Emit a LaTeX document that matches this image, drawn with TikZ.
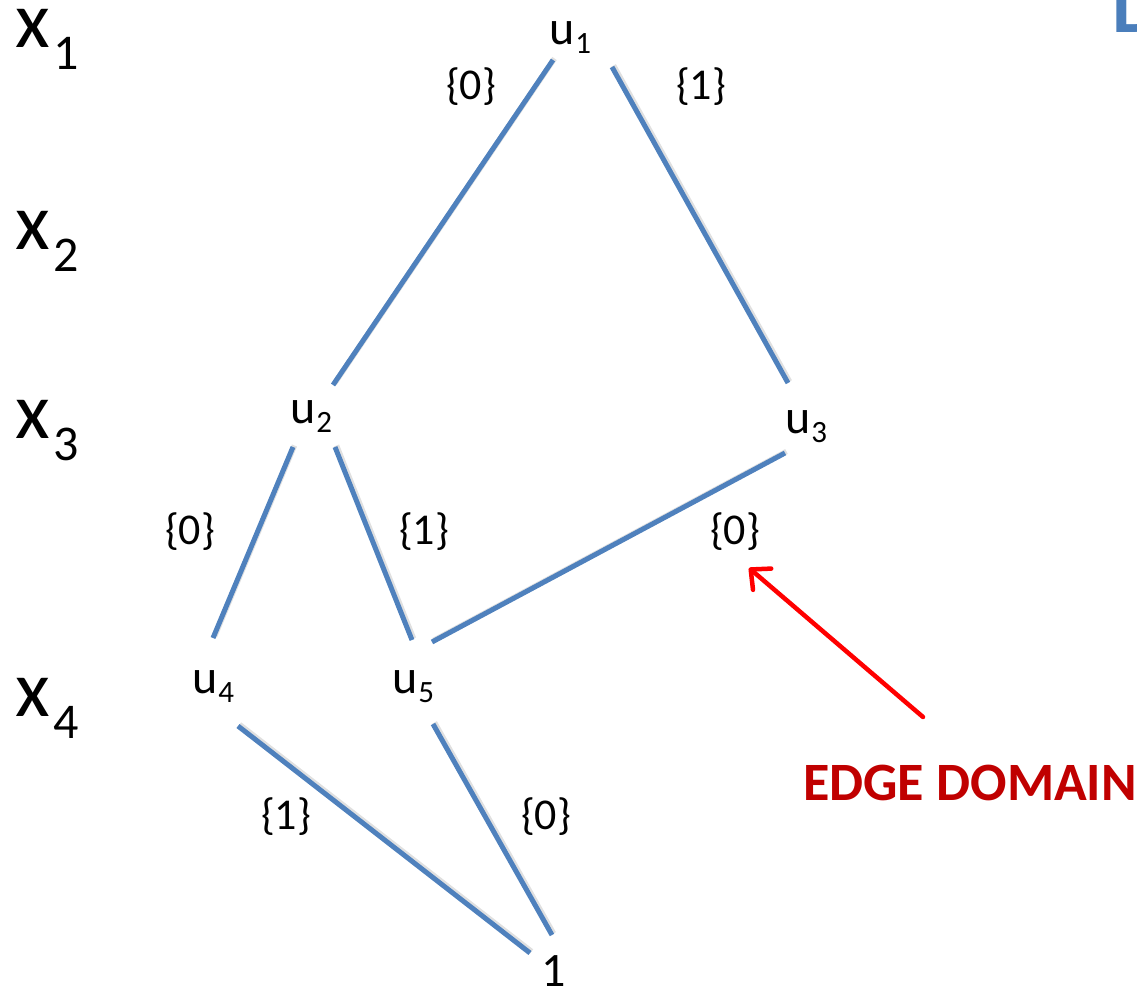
\documentclass[tikz,border=0pt]{standalone}
\usepackage{fontspec}
\setmainfont{Carlito}
\usetikzlibrary{arrows.meta}
\definecolor{edgeblue}{HTML}{4F81BD}
\definecolor{titleblue}{HTML}{4A7EBB}
\definecolor{darkred}{HTML}{C00000}
\definecolor{arrowred}{HTML}{FF0000}
% variable names x_i and node names u_i with lowered subscripts
\newcommand\varx[1]{{\fontsize{80}{80}\selectfont x}\kern4pt{\fontsize{50}{50}\selectfont\raisebox{-22pt}{#1}}}
\newcommand\nodeu[1]{u\kern1pt{\fontsize{31}{31}\selectfont\raisebox{-9pt}{#1}}}
\tikzset{
  lbl/.style={inner sep=0pt, font=\fontsize{44}{44}\selectfont},
  vname/.style={inner sep=0pt, anchor=base west},
  unode/.style={inner sep=0pt, anchor=base west, font=\fontsize{48}{48}\selectfont},
  bddedge/.style={draw=edgeblue, line width=5pt,
    preaction={draw=black, draw opacity=0.12, line width=5.5pt,
      transform canvas={shift={(1.5pt,1.5pt)}}}},
  pointer/.style={draw=arrowred, line width=4.5pt, line cap=round,
    -{Straight Barb[length=15pt,width=28pt,line width=4.5pt,round]}},
}
\begin{document}
\begin{tikzpicture}[x=1pt,y=-1pt]
\useasboundingbox (0,0) rectangle (1137,992);
\clip (0,0) rectangle (1137,992);

% level names
\node[vname] (x1) at (15,48)  {\varx{1}};
\node[vname] (x2) at (15,250) {\varx{2}};
\node[vname] (x3) at (15,438) {\varx{3}};
\node[vname] (x4) at (15,716) {\varx{4}};

% decision nodes
\node[unode] (u1) at (549,45)  {\nodeu{1}};
\node[unode] (u2) at (290,423) {\nodeu{2}};
\node[unode] (u3) at (785,433) {\nodeu{3}};
\node[unode] (u4) at (192,693) {\nodeu{4}};
\node[unode] (u5) at (392,693) {\nodeu{5}};
\node[unode] (one) at (541,986) {1};

% edges
\draw[bddedge] ([shift={(4,15)}]u1.base west) -- ([shift={(43,-38)}]u2.base west);
\draw[bddedge] ([shift={(63,22)}]u1.base west) -- ([shift={(3,-50)}]u3.base west);
\draw[bddedge] ([shift={(3,24)}]u2.base west) -- ([shift={(21,-55)}]u4.base west);
\draw[bddedge] ([shift={(45,24)}]u2.base west) -- ([shift={(20,-53)}]u5.base west);
\draw[bddedge] ([shift={(0,20)}]u3.base west) -- ([shift={(40,-51)}]u5.base west);
\draw[bddedge] ([shift={(46,33)}]u4.base west) -- ([shift={(-11,-33)}]one.base west);
\draw[bddedge] ([shift={(41,31)}]u5.base west) -- ([shift={(11,-51)}]one.base west);

% edge domains
\node[lbl] (d12) at (471,87)  {\{0\}};
\node[lbl] (d13) at (701,87)  {\{1\}};
\node[lbl] (d24) at (190,532) {\{0\}};
\node[lbl] (d25) at (424,532) {\{1\}};
\node[lbl] (d35) at (735,532) {\{0\}};
\node[lbl] (d41) at (286,817) {\{1\}};
\node[lbl] (d51) at (546,817) {\{0\}};

% annotation
\node[inner sep=0pt, anchor=base west, text=darkred, font=\fontsize{54}{54}\selectfont\bfseries]
  (dom) at (803,800) {EDGE DOMAIN};
\draw[pointer] ([shift={(120,-83)}]dom.base west) -- ([shift={(14,36)}]d35.center);

% title letter at the top edge
\node[inner sep=0pt, anchor=base west, text=titleblue, font=\fontsize{77}{77}\selectfont\bfseries]
  (ttl) at (1112,33) {D};
\end{tikzpicture}
\end{document}
